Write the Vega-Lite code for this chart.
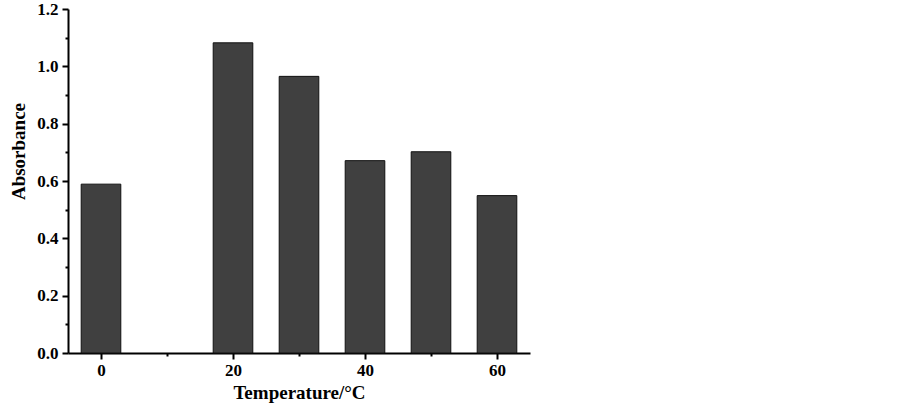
{
  "$schema": "https://vega.github.io/schema/vega-lite/v6.json",
  "autosize": "none",
  "width": 462,
  "height": 344,
  "padding": {"left": 68, "top": 9, "right": 373, "bottom": 55},
  "background": "white",
  "config": {
    "view": {"stroke": null},
    "font": "Liberation Serif"
  },
  "data": {
    "values": [
      {"temperature": 0, "absorbance": 0.589},
      {"temperature": 20, "absorbance": 1.082},
      {"temperature": 30, "absorbance": 0.965},
      {"temperature": 40, "absorbance": 0.671},
      {"temperature": 50, "absorbance": 0.702},
      {"temperature": 60, "absorbance": 0.549}
    ]
  },
  "mark": {"type": "bar", "width": 39.6, "fill": "#404040", "stroke": "#111111", "strokeWidth": 1},
  "encoding": {
    "x": {
      "field": "temperature",
      "type": "quantitative",
      "scale": {"domain": [-5, 65], "nice": false, "zero": false, "padding": 0},
      "axis": {
        "title": "Temperature/°C",
        "values": [0, 10, 20, 30, 40, 50, 60],
        "labelExpr": "datum.value % 20 == 0 ? datum.value : ''",
        "grid": false,
        "domainColor": "black",
        "domainWidth": 2,
        "tickColor": "black",
        "tickWidth": 2,
        "tickSize": {"condition": {"test": "datum.value % 20 != 0", "value": 3}, "value": 6},
        "labelFont": "Liberation Serif",
        "labelFontWeight": "bold",
        "labelFontSize": 17,
        "labelColor": "black",
        "labelPadding": 3,
        "titleFont": "Liberation Serif",
        "titleFontWeight": "bold",
        "titleFontSize": 19,
        "titleColor": "black",
        "titlePadding": 5
      }
    },
    "y": {
      "field": "absorbance",
      "type": "quantitative",
      "scale": {"domain": [0, 1.2], "nice": false, "padding": 0},
      "axis": {
        "title": "Absorbance",
        "values": [0, 0.1, 0.2, 0.3, 0.4, 0.5, 0.6, 0.7, 0.8, 0.9, 1.0, 1.1, 1.2],
        "labelExpr": "round(datum.value * 10) % 2 == 0 ? format(datum.value, '.1f') : ''",
        "grid": false,
        "domainColor": "black",
        "domainWidth": 2,
        "tickColor": "black",
        "tickWidth": 2,
        "tickSize": {"condition": {"test": "round(datum.value * 10) % 2 == 1", "value": 3}, "value": 6},
        "labelFont": "Liberation Serif",
        "labelFontWeight": "bold",
        "labelFontSize": 17,
        "labelColor": "black",
        "labelPadding": 4,
        "titleFont": "Liberation Serif",
        "titleFontWeight": "bold",
        "titleFontSize": 19,
        "titleColor": "black",
        "titlePadding": 8,
        "titleY": 142
      }
    }
  }
}
